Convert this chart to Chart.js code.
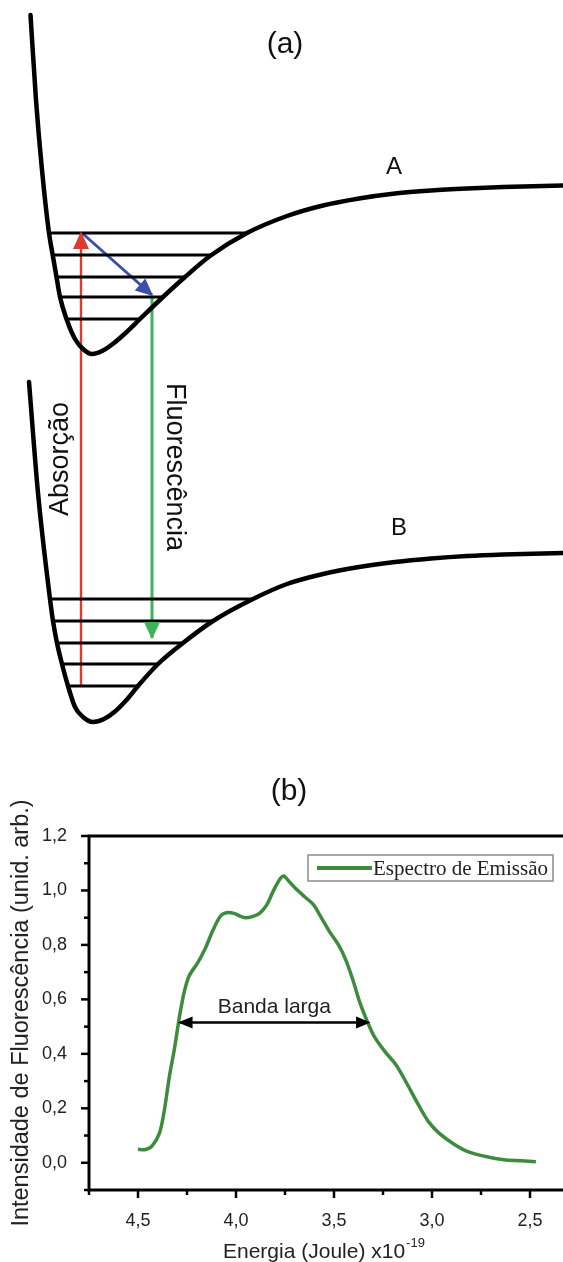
<!DOCTYPE html>
<html><head><meta charset="utf-8">
<script src="https://cdn.jsdelivr.net/npm/chart.js@4"></script>
<style>
html,body{margin:0;padding:0;background:#fff;overflow:hidden;width:563px;height:1262px}
#wa{position:absolute;left:0;top:0;width:563px;height:750px}
#wb{position:absolute;left:0;top:750px;width:600px;height:512px}
canvas{display:block}
</style></head><body>
<div id="wa"><canvas id="ca" width="563" height="750"></canvas></div>
<div id="wb"><canvas id="cb" width="600" height="512"></canvas></div>
<script>
// ===== Panel (a): potential-energy curves (r: internuclear distance, E: energy; arbitrary units)
const curveA_r = [0.61, 0.72, 0.84, 0.98, 1.054, 1.13, 1.20, 1.33, 1.50, 1.66, 1.84, 2.06, 2.28, 2.50, 2.80, 3.26, 3.70, 4.20, 4.94, 5.74, 6.46, 7.18, 7.90, 8.62, 9.34, 10.06, 11.26];
const curveA_E = [14.70, 13.00, 11.60, 10.34, 9.90, 9.46, 9.06, 8.62, 8.22, 8.02, 7.92, 7.99, 8.14, 8.33, 8.62, 9.06, 9.46, 9.88, 10.34, 10.68, 10.89, 11.03, 11.13, 11.19, 11.23, 11.26, 11.29];
const curveB_r = [0.58, 0.76, 1.00, 1.06, 1.14, 1.24, 1.36, 1.50, 1.66, 1.86, 2.08, 2.30, 2.52, 2.76, 3.16, 3.66, 4.26, 5.06, 5.74, 6.46, 7.18, 7.90, 8.62, 9.34, 10.06, 11.26];
const curveB_E = [7.36, 5.14, 3.02, 2.58, 2.14, 1.72, 1.28, 0.86, 0.66, 0.56, 0.62, 0.77, 0.99, 1.28, 1.72, 2.14, 2.58, 3.02, 3.32, 3.52, 3.66, 3.76, 3.83, 3.88, 3.91, 3.94];
const levelsA_E = [10.34, 9.90, 9.46, 9.06, 8.62];
const levelsA_left = [0.98, 1.054, 1.13, 1.20, 1.33];
const levelsA_right = [4.94, 4.21, 3.70, 3.26, 2.80];
const levelsB_E = [3.02, 2.58, 2.14, 1.72, 1.28];
const levelsB_left = [1.00, 1.06, 1.14, 1.24, 1.36];
const levelsB_right = [5.06, 4.26, 3.66, 3.16, 2.76];
const absorption_r = [1.62, 1.62];
const absorption_E = [1.28, 10.34];
const relaxation_r = [1.64, 3.04];
const relaxation_E = [10.34, 9.10];
const fluorescence_r = [3.04, 3.04];
const fluorescence_E = [9.06, 2.24];
const labelsA_text = ['(a)', 'A', 'B', 'Absorção', 'Fluorescência'];
const labelsA_r = [5.70, 7.88, 7.98, 1.22, 3.48];
const labelsA_E = [14.10, 11.66, 4.44, 5.82, 5.66];

// ===== Panel (b): emission spectrum
const energy = [4.50, 4.466, 4.43, 4.39, 4.365, 4.34, 4.315, 4.29, 4.275, 4.265, 4.24, 4.195, 4.155, 4.12, 4.08, 4.05, 4.01, 3.98, 3.953, 3.917, 3.88, 3.843, 3.807, 3.773, 3.755, 3.733, 3.697, 3.65, 3.605, 3.568, 3.523, 3.477, 3.44, 3.404, 3.367, 3.33, 3.294, 3.24, 3.184, 3.129, 3.074, 3.019, 2.964, 2.891, 2.817, 2.726, 2.634, 2.543, 2.47];
const intensity = [0.05, 0.048, 0.06, 0.11, 0.195, 0.317, 0.415, 0.53, 0.59, 0.625, 0.685, 0.735, 0.79, 0.85, 0.905, 0.918, 0.916, 0.906, 0.90, 0.904, 0.916, 0.947, 1.002, 1.045, 1.053, 1.036, 1.008, 0.977, 0.948, 0.904, 0.849, 0.80, 0.745, 0.672, 0.586, 0.519, 0.463, 0.408, 0.36, 0.292, 0.219, 0.152, 0.109, 0.07, 0.041, 0.023, 0.011, 0.007, 0.004];
const bandArrow_x = [4.288, 3.321];
const bandArrow_y = [0.515, 0.515];
const xTickMajorStep = 0.5, xTickMinorStep = 0.25;
const yTickMajorStep = 0.2, yTickMinorStep = 0.1;
const seriesName = 'Espectro de Emissão';
const xTitle = 'Energia (Joule) x10', xTitleExp = '-19';
const yTitle = 'Intensidade de Fluorescência (unid. arb.)';
const bandLabel = 'Banda larga';

const zip = (xs, ys) => xs.map((v, i) => ({x: v, y: ys[i]}));
const SANS = '"Liberation Sans", Arial, sans-serif';
const SERIF = '"Liberation Serif", "Times New Roman", serif';

const arrowPlugin = {
  id: 'arrows',
  afterDatasetsDraw(chart) {
    const ctx = chart.ctx;
    chart.data.datasets.forEach((ds, i) => {
      if (!ds.arrowHead) return;
      const pts = chart.getDatasetMeta(i).data;
      const h = ds.arrowHead;
      const draw = (tip, from) => {
        const ang = Math.atan2(tip.y - from.y, tip.x - from.x);
        const c = Math.cos(ang), s = Math.sin(ang);
        ctx.save();
        ctx.fillStyle = ds.borderColor;
        ctx.beginPath();
        ctx.moveTo(tip.x + c * 1.5, tip.y + s * 1.5);
        ctx.lineTo(tip.x - h.len * c + h.half * s, tip.y - h.len * s - h.half * c);
        ctx.lineTo(tip.x - h.len * c - h.half * s, tip.y - h.len * s + h.half * c);
        ctx.closePath();
        ctx.fill();
        ctx.restore();
      };
      if (h.end) draw(pts[pts.length - 1], pts[pts.length - 2]);
      if (h.start) draw(pts[0], pts[1]);
    });
  }
};

// ---------- Chart (a)
const labelStyleA = [
  {font: '30px ' + SANS, rot: 0},
  {font: '24px ' + SANS, rot: 0},
  {font: '24px ' + SANS, rot: 0},
  {font: '27px ' + SANS, rot: -90},
  {font: '27px ' + SANS, rot: 90}
];
const textPluginA = {
  id: 'textA',
  afterDraw(chart) {
    const {ctx, scales: {x, y}} = chart;
    labelsA_text.forEach((t, i) => {
      const st = labelStyleA[i];
      ctx.save();
      ctx.translate(x.getPixelForValue(labelsA_r[i]), y.getPixelForValue(labelsA_E[i]));
      ctx.rotate(st.rot * Math.PI / 180);
      ctx.font = st.font;
      ctx.fillStyle = '#111';
      ctx.textAlign = 'center';
      ctx.textBaseline = 'middle';
      ctx.fillText(t, 0, 0);
      ctx.restore();
    });
  }
};

const lineDs = (data, color, width, extra) => Object.assign({
  data, showLine: true, borderColor: color, backgroundColor: color, borderWidth: width,
  pointRadius: 0, pointHoverRadius: 0, fill: false, tension: 0
}, extra || {});

const dsA = [];
levelsA_E.forEach((E, i) => dsA.push(lineDs(zip([levelsA_left[i], levelsA_right[i]], [E, E]), '#000', 3.2)));
levelsB_E.forEach((E, i) => dsA.push(lineDs(zip([levelsB_left[i], levelsB_right[i]], [E, E]), '#000', 3.2)));
dsA.push(lineDs(zip(curveA_r, curveA_E), '#000', 4.5, {cubicInterpolationMode: 'monotone', borderCapStyle: 'round', borderJoinStyle: 'round'}));
dsA.push(lineDs(zip(curveB_r, curveB_E), '#000', 4.5, {cubicInterpolationMode: 'monotone', borderCapStyle: 'round', borderJoinStyle: 'round'}));
dsA.push(lineDs(zip(absorption_r, absorption_E), '#e2392e', 2.4, {arrowHead: {end: true, len: 16, half: 8}}));
dsA.push(lineDs(zip(fluorescence_r, fluorescence_E), '#3fb25a', 3, {arrowHead: {end: true, len: 16, half: 8}}));
dsA.push(lineDs(zip(relaxation_r, relaxation_E), '#3b4fa8', 3, {arrowHead: {end: true, len: 16, half: 8}}));

new Chart(document.getElementById('ca'), {
  type: 'scatter',
  data: {datasets: dsA},
  options: {
    responsive: false, animation: false, devicePixelRatio: 1,
    layout: {padding: 0},
    plugins: {legend: {display: false}, tooltip: {enabled: false}},
    scales: {
      x: {type: 'linear', display: false, min: 0, max: 11.26},
      y: {type: 'linear', display: false, min: 0, max: 15}
    }
  },
  plugins: [arrowPlugin, textPluginA]
});

// ---------- Chart (b)
const near = (v, step) => Math.abs(v / step - Math.round(v / step)) < 1e-6;
const fmt = v => (Math.abs(v) < 1e-9 ? 0 : v).toFixed(1).replace('.', ',');

const decorB = {
  id: 'decorB',
  afterDraw(chart) {
    const {ctx, chartArea: a, scales: {x, y}} = chart;
    ctx.save();
    ctx.strokeStyle = '#000';
    ctx.lineWidth = 3;
    ctx.strokeRect(a.left, a.top, a.right - a.left, a.bottom - a.top);
    ctx.lineWidth = 2.5;
    x.ticks.forEach(t => {
      const px = x.getPixelForValue(t.value);
      const L = near(t.value, xTickMajorStep) ? 8 : 5;
      ctx.beginPath(); ctx.moveTo(px, a.bottom); ctx.lineTo(px, a.bottom + L); ctx.stroke();
    });
    y.ticks.forEach(t => {
      const py = y.getPixelForValue(t.value);
      const L = near(t.value, yTickMajorStep) ? 8 : 5;
      ctx.beginPath(); ctx.moveTo(a.left, py); ctx.lineTo(a.left - L, py); ctx.stroke();
    });
    ctx.fillStyle = '#111';
    ctx.textAlign = 'center'; ctx.textBaseline = 'middle';
    ctx.font = '30px ' + SANS;
    ctx.fillText('(b)', 289, 42);
    ctx.save();
    ctx.translate(22, (a.top + a.bottom) / 2);
    ctx.rotate(-Math.PI / 2);
    ctx.font = '23.5px ' + SANS;
    ctx.fillStyle = '#222';
    ctx.fillText(yTitle, 0, 0);
    ctx.restore();
    ctx.fillStyle = '#222';
    ctx.textAlign = 'left'; ctx.textBaseline = 'alphabetic';
    ctx.font = '21px ' + SANS;
    const x0 = a.left + 134, base = 508;
    ctx.fillText(xTitle, x0, base);
    const w = ctx.measureText(xTitle).width;
    ctx.font = '13px ' + SANS;
    ctx.fillText(xTitleExp, x0 + w + 1, base - 11);
    ctx.textAlign = 'center'; ctx.textBaseline = 'middle';
    ctx.font = '21px ' + SANS;
    ctx.fillStyle = '#222';
    ctx.fillText(bandLabel, x.getPixelForValue((bandArrow_x[0] + bandArrow_x[1]) / 2), y.getPixelForValue(bandArrow_y[0]) - 15);
    const lx = a.right - 271, ly = a.top + 19, lw = 245, lh = 26;
    ctx.fillStyle = '#fff';
    ctx.fillRect(lx, ly, lw, lh);
    ctx.strokeStyle = '#8a8a8a'; ctx.lineWidth = 1.5;
    ctx.strokeRect(lx, ly, lw, lh);
    ctx.strokeStyle = '#3d8b3d'; ctx.lineWidth = 4;
    ctx.beginPath(); ctx.moveTo(lx + 9, ly + lh / 2); ctx.lineTo(lx + 64, ly + lh / 2); ctx.stroke();
    ctx.fillStyle = '#222';
    ctx.textAlign = 'left';
    ctx.font = '21px ' + SERIF;
    ctx.fillText(seriesName, lx + 65, ly + lh / 2 + 1);
    ctx.restore();
  }
};

new Chart(document.getElementById('cb'), {
  type: 'scatter',
  data: {datasets: [
    lineDs(zip(energy, intensity), '#3d8b3d', 3.5, {tension: 0.3, borderJoinStyle: 'round'}),
    lineDs(zip(bandArrow_x, bandArrow_y), '#000', 2.5, {arrowHead: {start: true, end: true, len: 13, half: 6}})
  ]},
  options: {
    responsive: false, animation: false, devicePixelRatio: 1,
    layout: {padding: {top: 86, right: 21, left: 0, bottom: 0}},
    plugins: {legend: {display: false}, tooltip: {enabled: false}},
    scales: {
      x: {
        type: 'linear', reverse: true, min: 2.25, max: 4.75,
        afterFit: s => { s.height = 72; },
        grid: {display: false}, border: {display: false},
        ticks: {stepSize: xTickMinorStep, autoSkip: false, maxRotation: 0, padding: 12,
          color: '#222', font: {family: SANS, size: 18},
          callback: v => near(v, xTickMajorStep) ? fmt(v) : ''}
      },
      y: {
        type: 'linear', min: -0.1, max: 1.2,
        afterFit: s => { s.width = 89; },
        grid: {display: false}, border: {display: false},
        ticks: {stepSize: yTickMinorStep, autoSkip: false, padding: 14,
          color: '#222', font: {family: SANS, size: 18},
          callback: v => near(v, yTickMajorStep) ? fmt(v) : ''}
      }
    }
  },
  plugins: [arrowPlugin, decorB]
});
</script>
</body></html>
